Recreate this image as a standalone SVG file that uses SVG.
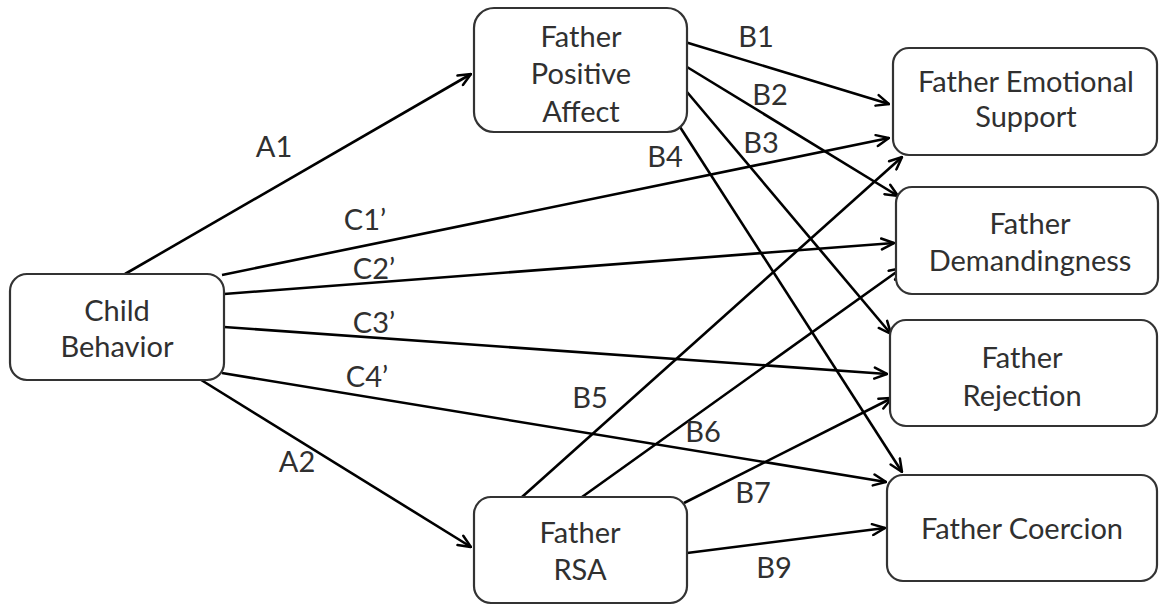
<svg xmlns="http://www.w3.org/2000/svg" width="1160" height="605" viewBox="0 0 1160 605">
  <style>
    .box { fill: #ffffff; stroke: #333333; stroke-width: 2.2; }
    .lbl { font-family: Lato, "Open Sans", sans-serif; font-size: 29px; fill: #303030; text-anchor: middle; }
    .edge { stroke: #000000; stroke-width: 2.6; fill: none; marker-end: url(#arrow); }
  </style>
  <defs>
    <!-- open V arrowhead, drawn in user units -->
    <marker id="arrow" viewBox="0 0 15 14" markerWidth="15" markerHeight="14" refX="14" refY="7" orient="auto" markerUnits="userSpaceOnUse">
      <path d="M1.5,1.5 L14,7 L1.5,12.5" fill="none" stroke="#000000" stroke-width="2.5" stroke-linecap="round" stroke-linejoin="miter"/>
    </marker>
  </defs>
  <rect width="1160" height="605" fill="#ffffff"/>

  <!-- paths between variables -->
  <g id="connectors">
    <line class="edge" x1="125" y1="274" x2="471" y2="74"/>
    <line class="edge" x1="198" y1="378" x2="471" y2="547"/>
    <line class="edge" x1="222" y1="275" x2="889" y2="138"/>
    <line class="edge" x1="224" y1="294" x2="894" y2="243"/>
    <line class="edge" x1="224" y1="327" x2="887" y2="374"/>
    <line class="edge" x1="222" y1="373" x2="886" y2="482"/>
    <line class="edge" x1="685" y1="42" x2="889" y2="104"/>
    <line class="edge" x1="687" y1="67" x2="898" y2="196"/>
    <line class="edge" x1="687" y1="92" x2="891" y2="334"/>
    <line class="edge" x1="680" y1="127" x2="902" y2="472"/>
    <line class="edge" x1="522" y1="497" x2="902" y2="157"/>
    <line class="edge" x1="582" y1="497" x2="902" y2="268"/>
    <line class="edge" x1="684" y1="503" x2="892" y2="398"/>
    <line class="edge" x1="687" y1="553" x2="885" y2="528"/>
    <g id="path-labels">
      <text class="lbl" x="274" y="157">A1</text>
      <text class="lbl" x="297" y="472">A2</text>
      <text class="lbl" x="365" y="230">C1’</text>
      <text class="lbl" x="374" y="279">C2’</text>
      <text class="lbl" x="374" y="333">C3’</text>
      <text class="lbl" x="367" y="387">C4’</text>
      <text class="lbl" x="756" y="47">B1</text>
      <text class="lbl" x="770" y="105">B2</text>
      <text class="lbl" x="761" y="153">B3</text>
      <text class="lbl" x="665" y="167">B4</text>
      <text class="lbl" x="590" y="408">B5</text>
      <text class="lbl" x="703" y="442">B6</text>
      <text class="lbl" x="753" y="503">B7</text>
      <text class="lbl" x="774" y="578">B9</text>
    </g>
  </g>

  <g id="child-behavior">
    <rect class="box" x="10" y="274" width="214" height="106" rx="17"/>
    <text class="lbl" x="117" y="321">Child</text>
    <text class="lbl" x="117" y="357">Behavior</text>
  </g>

  <g id="father-positive-affect">
    <rect class="box" x="474" y="8" width="213" height="124" rx="20"/>
    <text class="lbl" x="581" y="47">Father</text>
    <text class="lbl" x="581" y="84">Positive</text>
    <text class="lbl" x="581" y="122">Affect</text>
  </g>

  <g id="father-rsa">
    <rect class="box" x="474" y="497" width="213" height="106" rx="17"/>
    <text class="lbl" x="580" y="543">Father</text>
    <text class="lbl" x="580" y="580">RSA</text>
  </g>

  <g id="father-emotional-support">
    <rect class="box" x="893" y="48" width="264" height="107" rx="16"/>
    <text class="lbl" x="1026" y="92">Father Emotional</text>
    <text class="lbl" x="1026" y="127">Support</text>
  </g>

  <g id="father-demandingness">
    <rect class="box" x="896" y="187" width="262" height="107" rx="16"/>
    <text class="lbl" x="1030" y="234">Father</text>
    <text class="lbl" x="1030" y="271">Demandingness</text>
  </g>

  <g id="father-rejection">
    <rect class="box" x="890" y="320" width="267" height="106" rx="16"/>
    <text class="lbl" x="1022" y="368">Father</text>
    <text class="lbl" x="1022" y="406">Rejection</text>
  </g>

  <g id="father-coercion">
    <rect class="box" x="887" y="475" width="270" height="106" rx="16"/>
    <text class="lbl" x="1022" y="539">Father Coercion</text>
  </g>
</svg>
